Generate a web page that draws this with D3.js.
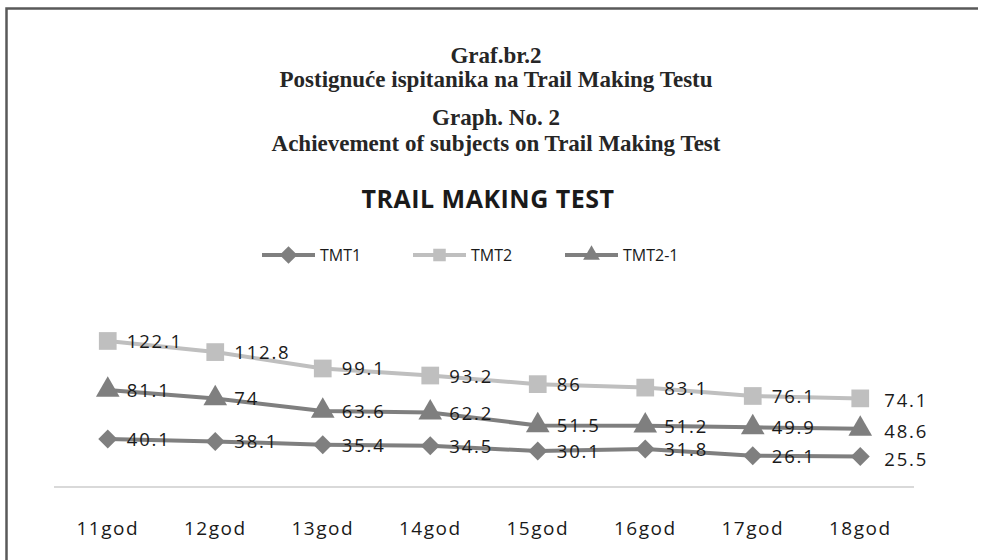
<!DOCTYPE html>
<html>
<head>
<meta charset="utf-8">
<script src="https://cdn.jsdelivr.net/npm/d3@7"></script>
<style>
  body { margin: 0; background: #fff; }
</style>
</head>
<body>
<script>
const categories = ['11god', '12god', '13god', '14god', '15god', '16god', '17god', '18god'];
const tmt1 = [40.1, 38.1, 35.4, 34.5, 30.1, 31.8, 26.1, 25.5];
const tmt2 = [122.1, 112.8, 99.1, 93.2, 86, 83.1, 76.1, 74.1];
const tmt21 = [81.1, 74, 63.6, 62.2, 51.5, 51.2, 49.9, 48.6];
const seriesNames = ['TMT1', 'TMT2', 'TMT2-1'];

const series = [
  { name: seriesNames[0], values: tmt1, color: '#7f7f7f', symbol: d3.symbolDiamond2 },
  { name: seriesNames[1], values: tmt2, color: '#bfbfbf', symbol: d3.symbolSquare2 },
  { name: seriesNames[2], values: tmt21, color: '#7f7f7f', symbol: d3.symbolTriangle2 }
];

const svg = d3.select('body')
  .append('svg')
  .attr('width', 981)
  .attr('height', 560);

// frame (top and left only)
svg.append('path')
  .attr('d', 'M6.5,560 V8.5 H978')
  .attr('fill', 'none')
  .attr('stroke', '#595959')
  .attr('stroke-width', 2.5);

const titles = [
  { t: 'Graf.br.2', y: 63 },
  { t: 'Postignuće ispitanika na Trail Making Testu', y: 87 },
  { t: 'Graph. No. 2', y: 125 },
  { t: 'Achievement of subjects on Trail Making Test', y: 151 }
];
svg.selectAll('text.title')
  .data(titles)
  .enter()
  .append('text')
  .attr('class', 'title')
  .attr('x', 496)
  .attr('y', d => d.y)
  .attr('text-anchor', 'middle')
  .style('font-family', 'Liberation Serif, serif')
  .style('font-weight', 'bold')
  .style('font-size', '23px')
  .style('fill', '#262626')
  .text(d => d.t);

svg.append('text')
  .attr('x', 488)
  .attr('y', 208)
  .attr('text-anchor', 'middle')
  .style('font-family', 'Open Sans, sans-serif')
  .style('font-weight', 'bold')
  .style('font-size', '25px')
  .style('letter-spacing', '0.5px')
  .style('fill', '#1a1a1a')
  .text('TRAIL MAKING TEST');

const x = d3.scaleBand().domain(categories).range([54, 914]);
const y = d3.scaleLinear().domain([0, 140]).range([487, 487 - 140 * 1.196]);
const cx = c => x(c) + x.bandwidth() / 2;

// category axis
svg.append('line')
  .attr('x1', 54).attr('x2', 914)
  .attr('y1', y(0)).attr('y2', y(0))
  .attr('stroke', '#d9d9d9')
  .attr('stroke-width', 2);

svg.selectAll('text.cat')
  .data(categories)
  .enter()
  .append('text')
  .attr('class', 'cat')
  .attr('x', d => cx(d))
  .attr('y', 535)
  .attr('text-anchor', 'middle')
  .style('font-family', 'Open Sans, sans-serif')
  .style('font-size', '19px')
  .style('letter-spacing', '1.5px')
  .style('fill', '#1a1a1a')
  .text(d => d);

// legend
const legendX = [262, 413, 565];
const leg = svg.selectAll('g.leg')
  .data(series)
  .enter()
  .append('g')
  .attr('class', 'leg')
  .attr('transform', (d, i) => `translate(${legendX[i]},255)`);
leg.append('line')
  .attr('x1', 0).attr('x2', 53)
  .attr('stroke', d => d.color)
  .attr('stroke-width', 4);
leg.append('path')
  .attr('transform', 'translate(26.5,0)')
  .attr('d', d => d3.symbol().type(d.symbol).size(200)())
  .attr('fill', d => d.color);
leg.append('text')
  .attr('x', 58)
  .attr('y', 6)
  .style('font-family', 'Open Sans, sans-serif')
  .style('font-size', '16px')
  .style('fill', '#1a1a1a')
  .text(d => d.name);

const line = d3.line()
  .x((d, i) => cx(categories[i]))
  .y(d => y(d));

const g = svg.selectAll('g.series')
  .data(series)
  .enter()
  .append('g')
  .attr('class', 'series');

g.append('path')
  .attr('d', d => line(d.values))
  .attr('fill', 'none')
  .attr('stroke', d => d.color)
  .attr('stroke-width', 4);

g.each(function(s) {
  const sel = d3.select(this);
  sel.selectAll('path.m')
    .data(s.values)
    .enter()
    .append('path')
    .attr('class', 'm')
    .attr('transform', (d, i) => `translate(${cx(categories[i])},${y(d)})`)
    .attr('d', d3.symbol().type(s.symbol).size(s.symbol === d3.symbolDiamond2 ? 230 : 400)())
    .attr('fill', s.color);
  sel.selectAll('text.lab')
    .data(s.values)
    .enter()
    .append('text')
    .attr('class', 'lab')
    .attr('x', (d, i) => cx(categories[i]) + (i === 7 ? 24 : 19))
    .attr('y', (d, i) => y(d) + (i === 7 ? 9 : 7))
    .style('font-family', 'Open Sans, sans-serif')
    .style('font-size', '18.5px')
    .style('letter-spacing', '1.8px')
    .style('fill', '#1a1a1a')
    .text(d => d);
});
</script>
</body>
</html>
